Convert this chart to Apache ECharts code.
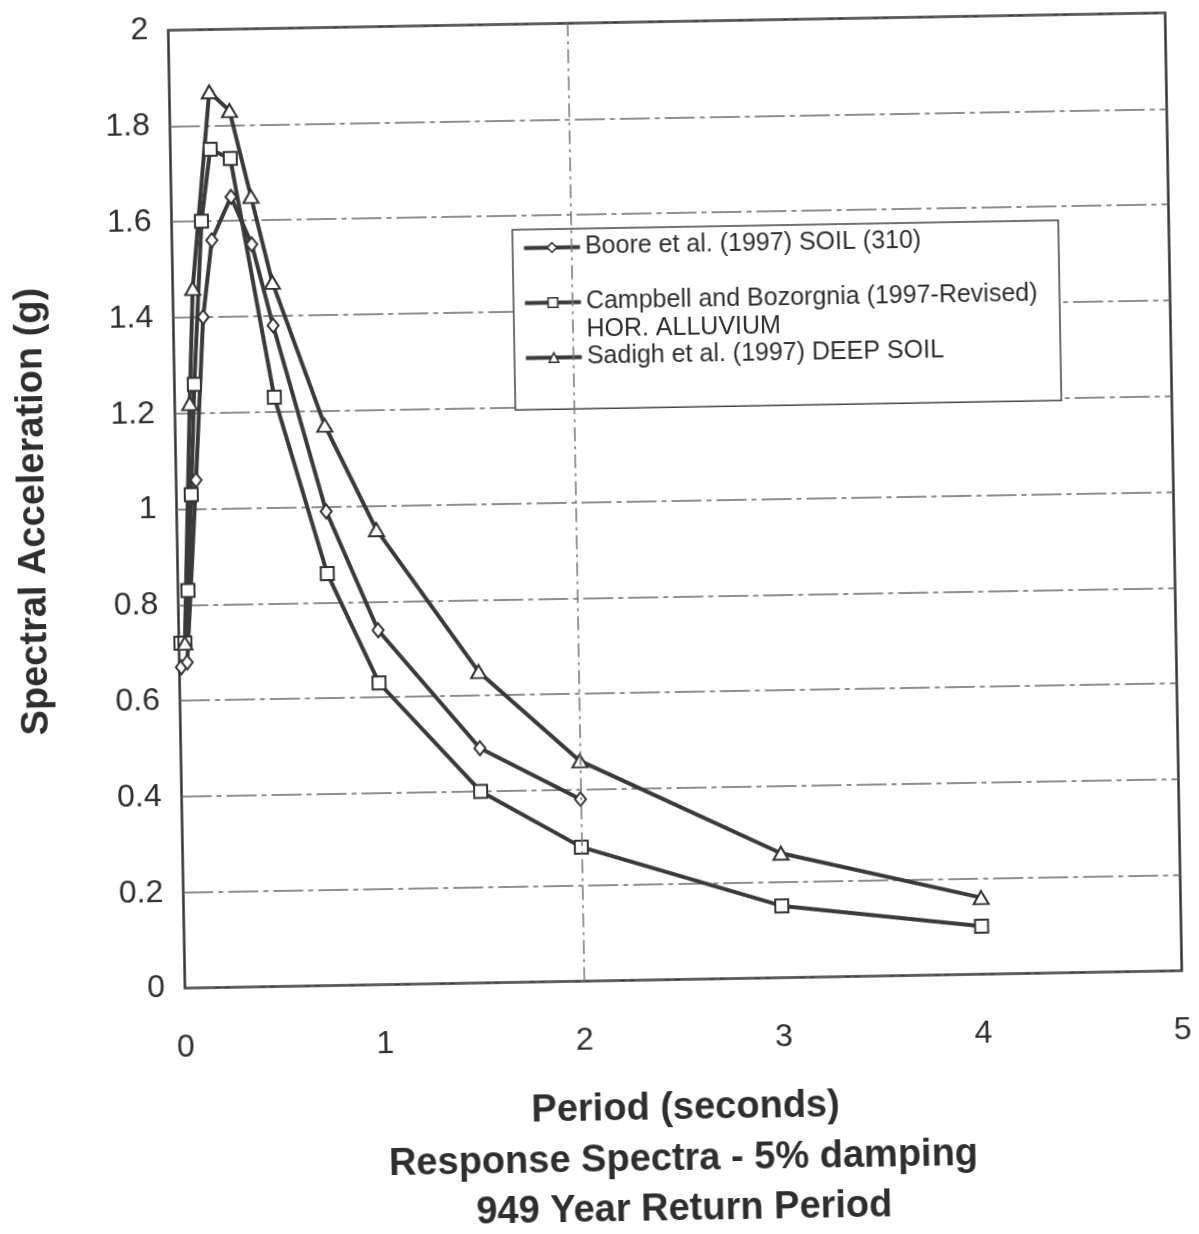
<!DOCTYPE html>
<html>
<head>
<meta charset="utf-8">
<script src="https://cdn.jsdelivr.net/npm/echarts@6/dist/echarts.min.js"></script>
<style>
html,body{margin:0;padding:0;background:#fff;overflow:hidden;}
#chart{width:1199px;height:1234px;transform:rotate(-1deg);transform-origin:675px 500px;}
</style>
</head>
<body>
<div id="chart"></div>
<script>
// ---- data ----
const seriesNames = [
  'Boore et al. (1997) SOIL (310)',
  'Campbell and Bozorgnia (1997-Revised)\nHOR. ALLUVIUM',
  'Sadigh et al. (1997) DEEP SOIL'
];
const boorePeriod = [0.01, 0.04, 0.1, 0.15, 0.2, 0.3, 0.4, 0.5, 0.75, 1.0, 1.5, 2.0];
const booreSA     = [0.67, 0.68, 1.06, 1.40, 1.56, 1.65, 1.55, 1.38, 0.99, 0.74, 0.49, 0.38];
const campbellPeriod = [0.01, 0.03, 0.05, 0.075, 0.1, 0.15, 0.2, 0.3, 0.5, 0.75, 1.0, 1.5, 2.0, 3.0, 4.0];
const campbellSA     = [0.72, 0.72, 0.83, 1.03, 1.26, 1.60, 1.75, 1.73, 1.23, 0.86, 0.63, 0.40, 0.28, 0.15, 0.10];
const sadighPeriod = [0.03, 0.075, 0.1, 0.2, 0.3, 0.4, 0.5, 0.75, 1.0, 1.5, 2.0, 3.0, 4.0];
const sadighSA     = [0.72, 1.22, 1.46, 1.87, 1.83, 1.65, 1.47, 1.17, 0.95, 0.65, 0.46, 0.26, 0.16];
const verticalGridAt = [2];
const xTitle = 'Period (seconds)';
const yTitle = 'Spectral Acceleration (g)';
const subTitles = ['Response Spectra - 5% damping', '949 Year Return Period'];

const zip = (xs, ys) => xs.map((x, i) => [x, ys[i]]);
const INK = '#2e2e2e';
const FONT = '"Liberation Sans", Arial, sans-serif';

function lineSeries(name, data, symbol, size) {
  return {
    name: name,
    type: 'line',
    data: data,
    symbol: symbol,
    symbolSize: size,
    showAllSymbol: true,
    lineStyle: { color: '#3a3a3a', width: 4 },
    itemStyle: { color: '#fff', borderColor: '#333', borderWidth: 2 },
    emphasis: { disabled: true },
    animation: false,
    z: 3
  };
}

const series = [
  lineSeries(seriesNames[0], zip(boorePeriod, booreSA), 'diamond', [11, 14]),
  lineSeries(seriesNames[1], zip(campbellPeriod, campbellSA), 'rect', 13),
  lineSeries(seriesNames[2], zip(sadighPeriod, sadighSA), 'triangle', [15, 13])
];
series[0].markLine = {
  silent: true, symbol: 'none', animation: false,
  label: { show: false },
  lineStyle: { color: '#777', width: 1.5, type: [14, 5, 3, 5] },
  data: verticalGridAt.map(v => ({ xAxis: v }))
};

const chart = echarts.init(document.getElementById('chart'), null, { renderer: 'canvas' });
chart.setOption({
  backgroundColor: '#fff',
  animation: false,
  textStyle: { fontFamily: FONT },
  grid: {
    left: 176.5, right: 25.5, top: 21.5, bottom: 254.5,
    show: true, borderColor: '#333', borderWidth: 2.5, backgroundColor: 'transparent'
  },
  xAxis: {
    type: 'value', min: 0, max: 5, interval: 1,
    axisLine: { show: false }, axisTick: { show: false },
    splitLine: { show: false },
    axisLabel: { color: INK, fontSize: 32, margin: 44, fontFamily: FONT },
    name: xTitle, nameLocation: 'middle', nameGap: 110,
    nameTextStyle: { color: INK, fontSize: 38, fontWeight: 'bold', fontFamily: FONT }
  },
  yAxis: {
    type: 'value', min: 0, max: 2, interval: 0.2,
    axisLine: { show: false }, axisTick: { show: false },
    splitLine: { show: true, lineStyle: { color: '#6a6a6a', width: 1.5, type: [30, 5, 5, 5] } },
    axisLabel: { color: INK, fontSize: 32, margin: 20, fontFamily: FONT },
    name: yTitle, nameLocation: 'middle', nameGap: 124, nameRotate: 90,
    nameTextStyle: { color: INK, fontSize: 38, fontWeight: 'bold', fontFamily: FONT }
  },
  legend: {
    orient: 'vertical',
    left: 517, top: 227,
    itemGap: 0,
    itemWidth: 56, itemHeight: 12,
    padding: [4.7, 22, 38, 9.4],
    backgroundColor: '#fff',
    borderColor: '#444', borderWidth: 1.5,
    selectedMode: false,
    data: seriesNames,
    lineStyle: { width: 4, color: '#3a3a3a' },
    itemStyle: { color: '#fff', borderColor: '#333', borderWidth: 1.5 },
    formatter: function (name) {
      return name.indexOf('\n') >= 0 ? ' \n' + name : name;
    },
    textStyle: { color: INK, fontSize: 25, lineHeight: 27.5, fontFamily: FONT }
  },
  graphic: subTitles.map((t, i) => ({
    type: 'text',
    x: 672, y: 1160 + i * 50,
    silent: true,
    style: {
      text: t, fill: INK,
      font: 'bold 38px ' + FONT,
      textAlign: 'center', textVerticalAlign: 'middle'
    }
  })),
  series: series
});
</script>
</body>
</html>
